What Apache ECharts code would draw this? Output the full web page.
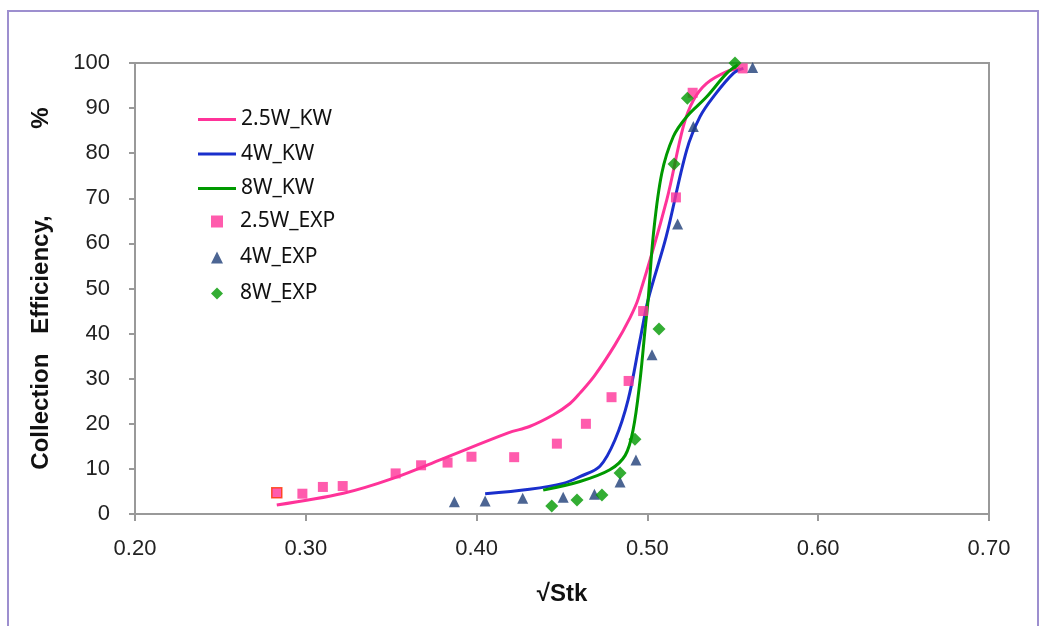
<!DOCTYPE html>
<html><head><meta charset="utf-8">
<script src="https://cdn.jsdelivr.net/npm/echarts@6/dist/echarts.min.js"></script>
<style>html,body{margin:0;padding:0;background:#fff}#c{width:1041px;height:626px}</style>
</head><body><div id="c"></div>
<script>
// Model curves (KW)
const kw25 = [[0.283,2.0],[0.322,4.6],[0.351,7.9],[0.3805,12.3],[0.4185,18.0],[0.431,19.4],[0.445,22.0],[0.4547,24.5],[0.4605,26.8],[0.4693,30.8],[0.481,37.5],[0.4898,43.5],[0.4947,47.8],[0.5113,69.6],[0.521,85.9],[0.527,91.8],[0.5347,95.5],[0.5464,98.1],[0.554,98.8]];
const kw4 = [[0.405,4.5],[0.431,5.5],[0.4507,6.8],[0.4605,8.3],[0.4722,10.6],[0.481,16.4],[0.4887,25.3],[0.4957,38.6],[0.5004,47.5],[0.511,61.5],[0.523,80.7],[0.5308,88.1],[0.5386,92.5],[0.5503,97.7],[0.5562,98.8]];
const kw8 = [[0.439,5.3],[0.4605,7.2],[0.478,9.8],[0.487,13.0],[0.4916,18.6],[0.4957,29.7],[0.4986,40.8],[0.5005,47.8],[0.5035,62.0],[0.5084,75.5],[0.5152,83.7],[0.523,88.1],[0.5347,92.5],[0.5464,97.7],[0.553,99.6]];
// Experimental points (EXP)
const exp25 = [[0.283,4.7],[0.298,4.5],[0.310,6.0],[0.3216,6.2],[0.3526,9.0],[0.3675,10.8],[0.383,11.4],[0.397,12.7],[0.422,12.6],[0.447,15.6],[0.464,20.0],[0.479,25.9],[0.489,29.5],[0.4975,45.0],[0.5167,70.2],[0.5265,93.4],[0.5558,98.8]];
const exp4 = [[0.387,2.7],[0.405,2.9],[0.427,3.5],[0.4507,3.7],[0.469,4.4],[0.484,7.1],[0.4933,12.0],[0.5027,35.3],[0.5177,64.3],[0.5269,85.9],[0.5616,99.0]];
const exp8 = [[0.444,1.8],[0.4588,3.1],[0.4734,4.2],[0.484,9.1],[0.4927,16.6],[0.5068,41.0],[0.5156,77.6],[0.5234,92.2],[0.5513,100.0]];
const lineNames = ['2.5W_KW','4W_KW','8W_KW'];
const expNames = ['2.5W_EXP','4W_EXP','8W_EXP'];
const xTitle = '√Stk';
const yTitle = 'Collection   Efficiency,             %';

const PINK='#ff3399', BLUE='#1a2fcc', GREEN='#009900', NAVY='#1f3f78';
const chart = echarts.init(document.getElementById('c'));
const lineS = (name,data,color)=>({name,type:'line',data,smooth:0.35,symbol:'none',lineStyle:{color,width:3},itemStyle:{color},z:2});
const exp25Data = exp25.map((p,i)=> i===0 ? {value:p,itemStyle:{borderColor:'#ff3300',borderWidth:1.5}} : p);
const legText = {fontFamily:'Noto Sans',fontSize:21,color:'#111'};
chart.setOption({
  animation:false,
  backgroundColor:'#fff',
  graphic:[{type:'rect',shape:{x:8,y:11,width:1030,height:640},style:{fill:'none',stroke:'#9d8fcf',lineWidth:2},z:-1}],
  grid:{left:135,right:52,top:63,bottom:112,show:true,borderColor:'#999',borderWidth:2,backgroundColor:'transparent'},
  legend:[
    {orient:'vertical',left:193,top:104,itemWidth:38,itemHeight:3,itemGap:13.5,icon:'rect',
     data:lineNames,textStyle:legText},
    {orient:'vertical',left:206,top:206,itemWidth:12,itemHeight:12,itemGap:15,
     data:expNames,textStyle:Object.assign({padding:[0,0,0,12]},legText),itemStyle:{borderWidth:0}}
  ],
  xAxis:{type:'value',min:0.2,max:0.7,interval:0.1,
    name:xTitle,nameLocation:'middle',nameGap:68,nameTextStyle:{fontFamily:'Liberation Sans',fontWeight:'bold',fontSize:24,color:'#111'},
    axisLine:{lineStyle:{color:'#999',width:2}},axisTick:{show:true,length:7,lineStyle:{color:'#999',width:2}},
    axisLabel:{margin:24,fontFamily:'Liberation Sans',fontSize:22,color:'#222',formatter:v=>v.toFixed(2)},
    splitLine:{show:false}},
  yAxis:{type:'value',min:0,max:100,interval:10,
    name:yTitle,nameLocation:'middle',nameGap:82,nameRotate:90,
    nameTextStyle:{fontFamily:'Liberation Sans',fontWeight:'bold',fontSize:24,color:'#111'},
    axisLine:{show:true,lineStyle:{color:'#999',width:2}},axisTick:{show:true,length:6,lineStyle:{color:'#999',width:2}},
    axisLabel:{margin:25,fontFamily:'Liberation Sans',fontSize:22,color:'#222'},
    splitLine:{show:false}},
  series:[
    lineS(lineNames[0],kw25,PINK),
    lineS(lineNames[1],kw4,BLUE),
    lineS(lineNames[2],kw8,GREEN),
    {name:expNames[0],type:'scatter',data:exp25Data,symbol:'rect',symbolSize:10,itemStyle:{color:PINK},z:3},
    {name:expNames[1],type:'scatter',data:exp4,symbol:'triangle',symbolSize:11,itemStyle:{color:NAVY},z:3},
    {name:expNames[2],type:'scatter',data:exp8,symbol:'diamond',symbolSize:13,itemStyle:{color:GREEN},z:3}
  ]
});
</script></body></html>
